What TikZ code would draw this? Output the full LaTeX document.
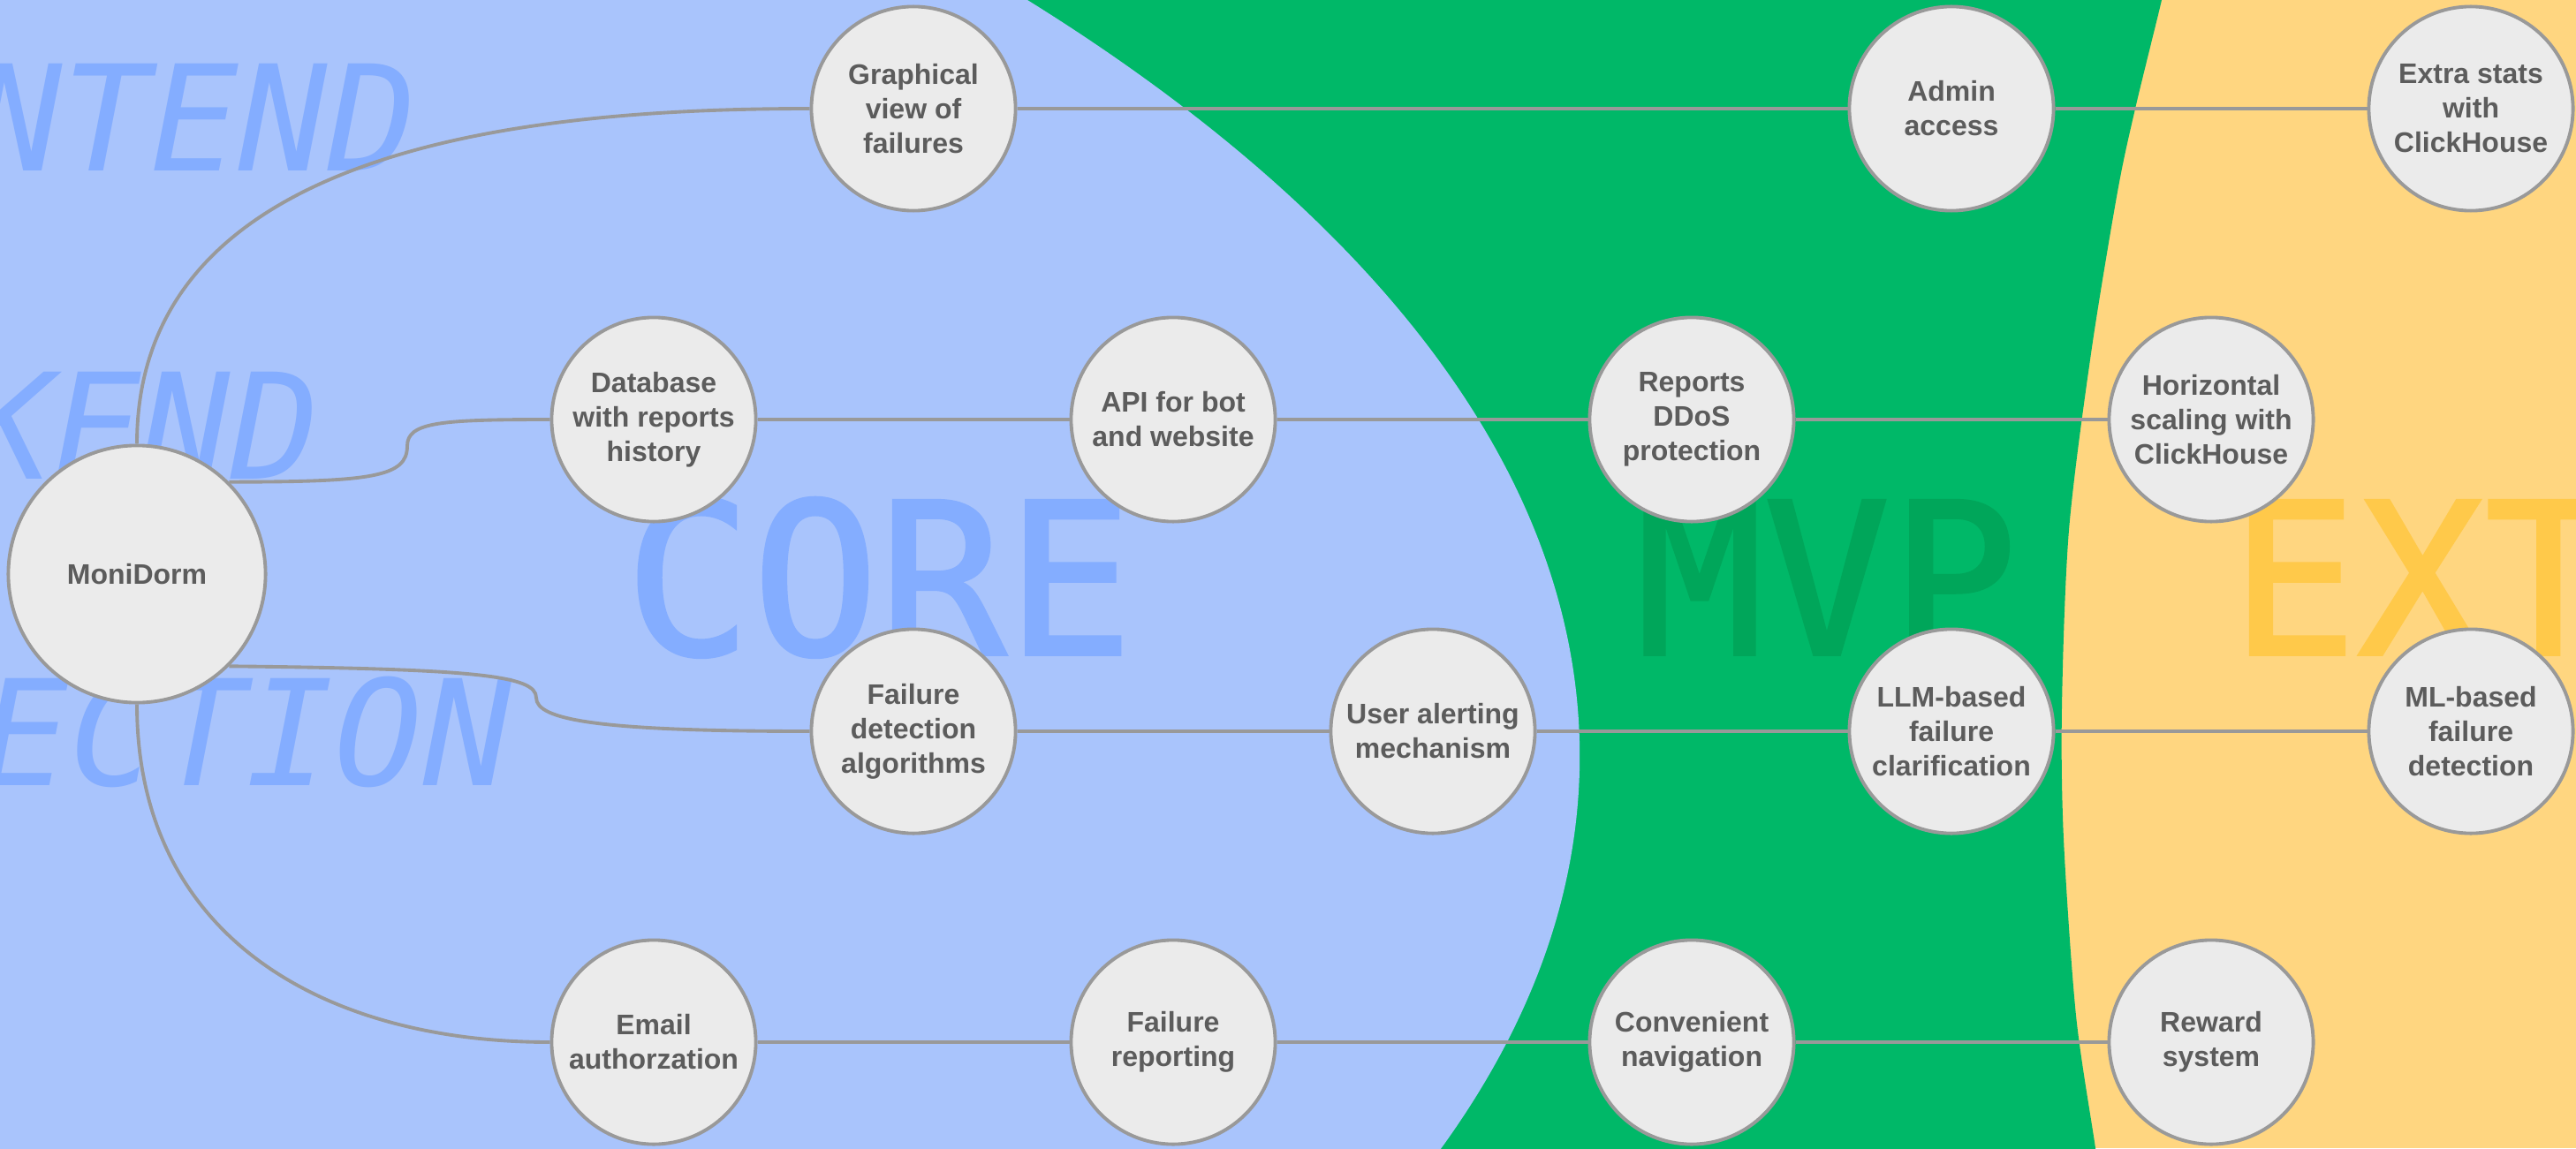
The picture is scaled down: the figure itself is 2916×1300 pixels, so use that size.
\documentclass[tikz,border=0pt]{standalone}
\usepackage{fontspec}
\setmainfont{Liberation Sans}
\newfontfamily\markfont{DejaVu Sans Mono}[ItalicFont={* Oblique}]
\newfontfamily\stagefont{DejaVu Sans Mono}[FakeBold=1.5]
\usetikzlibrary{positioning}

\definecolor{coreblue}{HTML}{A9C4FC}
\definecolor{coremark}{HTML}{84ADFF}
\definecolor{mvpgreen}{HTML}{00B868}
\definecolor{mvpmark}{HTML}{00A65A}
\definecolor{extyellow}{HTML}{FFD680}
\definecolor{extmark}{HTML}{FFC94A}
\definecolor{nodefill}{HTML}{EBEBEB}
\definecolor{nodeline}{HTML}{999999}
\definecolor{nodetext}{HTML}{5C5C5C}

\tikzset{
feature/.style={circle, draw=nodeline, fill=nodefill, line width=1.1pt, minimum size=2.31cm, inner sep=0pt, align=center, text=nodetext, font=\fontsize{9.1}{11.1}\selectfont\bfseries},
root/.style={feature, minimum size=2.91cm},
link/.style={draw=nodeline, line width=1.1pt},
stage/.style={inner sep=0pt, font=\stagefont\fontsize{68}{68}\selectfont},
track/.style={inner sep=0pt, anchor=base east, text=coremark, font=\markfont\itshape\fontsize{47.3}{47.3}\selectfont}
}

\begin{document}
\begin{tikzpicture}[x=0.01cm, y=0.01cm]
\path[use as bounding box] (0,0) rectangle (2916,-1300);
\clip (0,0) rectangle (2916,-1300);

\fill[extyellow] (0,0) rectangle (2916,-1300);
\fill[mvpgreen] (-10,60) -- plot[smooth] coordinates {(2460,60) (2447,0) (2417,-123) (2397,-217) (2367,-400) (2342,-600) (2334,-800) (2336,-950) (2350,-1150) (2372,-1300) (2380,-1360)} -- (-10,-1360) -- cycle;
\fill[coreblue] (-2000,-856) ellipse [x radius=37.86cm, y radius=15.54cm];

\node[track] at (472,-193) {FRONTEND};
\node[track] at (362,-542) {BACKEND};
\node[track] at (580,-889) {DETECTION};
\node[stage, anchor=base, text=coremark] at (995,-741) {CORE};
\node[stage, anchor=base, text=mvpmark] at (2068,-741) {MVP};
\node[stage, anchor=base west, text=extmark] at (2524,-741) {EXTRA};

\node[root] (mon) at (155,-650) {MoniDorm};

\node[feature] (gv) at (1034,-123) {Graphical\\view of\\failures};
\node[feature] (adm) at (2209,-123) {Admin\\access};
\node[feature] (xs) at (2797,-123) {Extra stats\\with\\ClickHouse};

\node[feature] (db) at (740,-475) {Database\\with reports\\history};
\node[feature] (api) at (1328,-475) {API for bot\\and website};
\node[feature] (dd) at (1915,-475) {Reports\\DDoS\\protection};
\node[feature] (hs) at (2503,-475) {Horizontal\\scaling with\\ClickHouse};

\node[feature] (fd) at (1034,-828) {Failure\\detection\\algorithms};
\node[feature] (ua) at (1622,-828) {User alerting\\mechanism};
\node[feature] (llm) at (2209,-828) {LLM-based\\failure\\clarification};
\node[feature] (ml) at (2797,-828) {ML-based\\failure\\detection};

\node[feature] (em) at (740,-1180) {Email\\authorzation};
\node[feature] (fr) at (1328,-1180) {Failure\\reporting};
\node[feature] (nav) at (1915,-1180) {Convenient\\navigation};
\node[feature] (rw) at (2503,-1180) {Reward\\system};

\coordinate (dbbend) at (461,-505);
\coordinate (fdbend) at (607,-790);

\draw[link] (mon.north) to[out=90,in=180] (gv.west);
\draw[link] (mon.45) .. controls +(162,0) and +(0,-35) .. (dbbend) .. controls +(0,27) and +(-124,0) .. (db.west);
\draw[link] (mon.-45) .. controls +(280,-3) and +(0,25) .. (fdbend) .. controls +(0,-25) and +(-240,0) .. (fd.west);
\draw[link] (mon.south) to[out=-90,in=180,looseness=1.1] (em.west);

\foreach \a/\b in {gv/adm, adm/xs, db/api, api/dd, dd/hs, fd/ua, ua/llm, llm/ml, em/fr, fr/nav, nav/rw}
	\draw[link] (\a) -- (\b);
\end{tikzpicture}
\end{document}
